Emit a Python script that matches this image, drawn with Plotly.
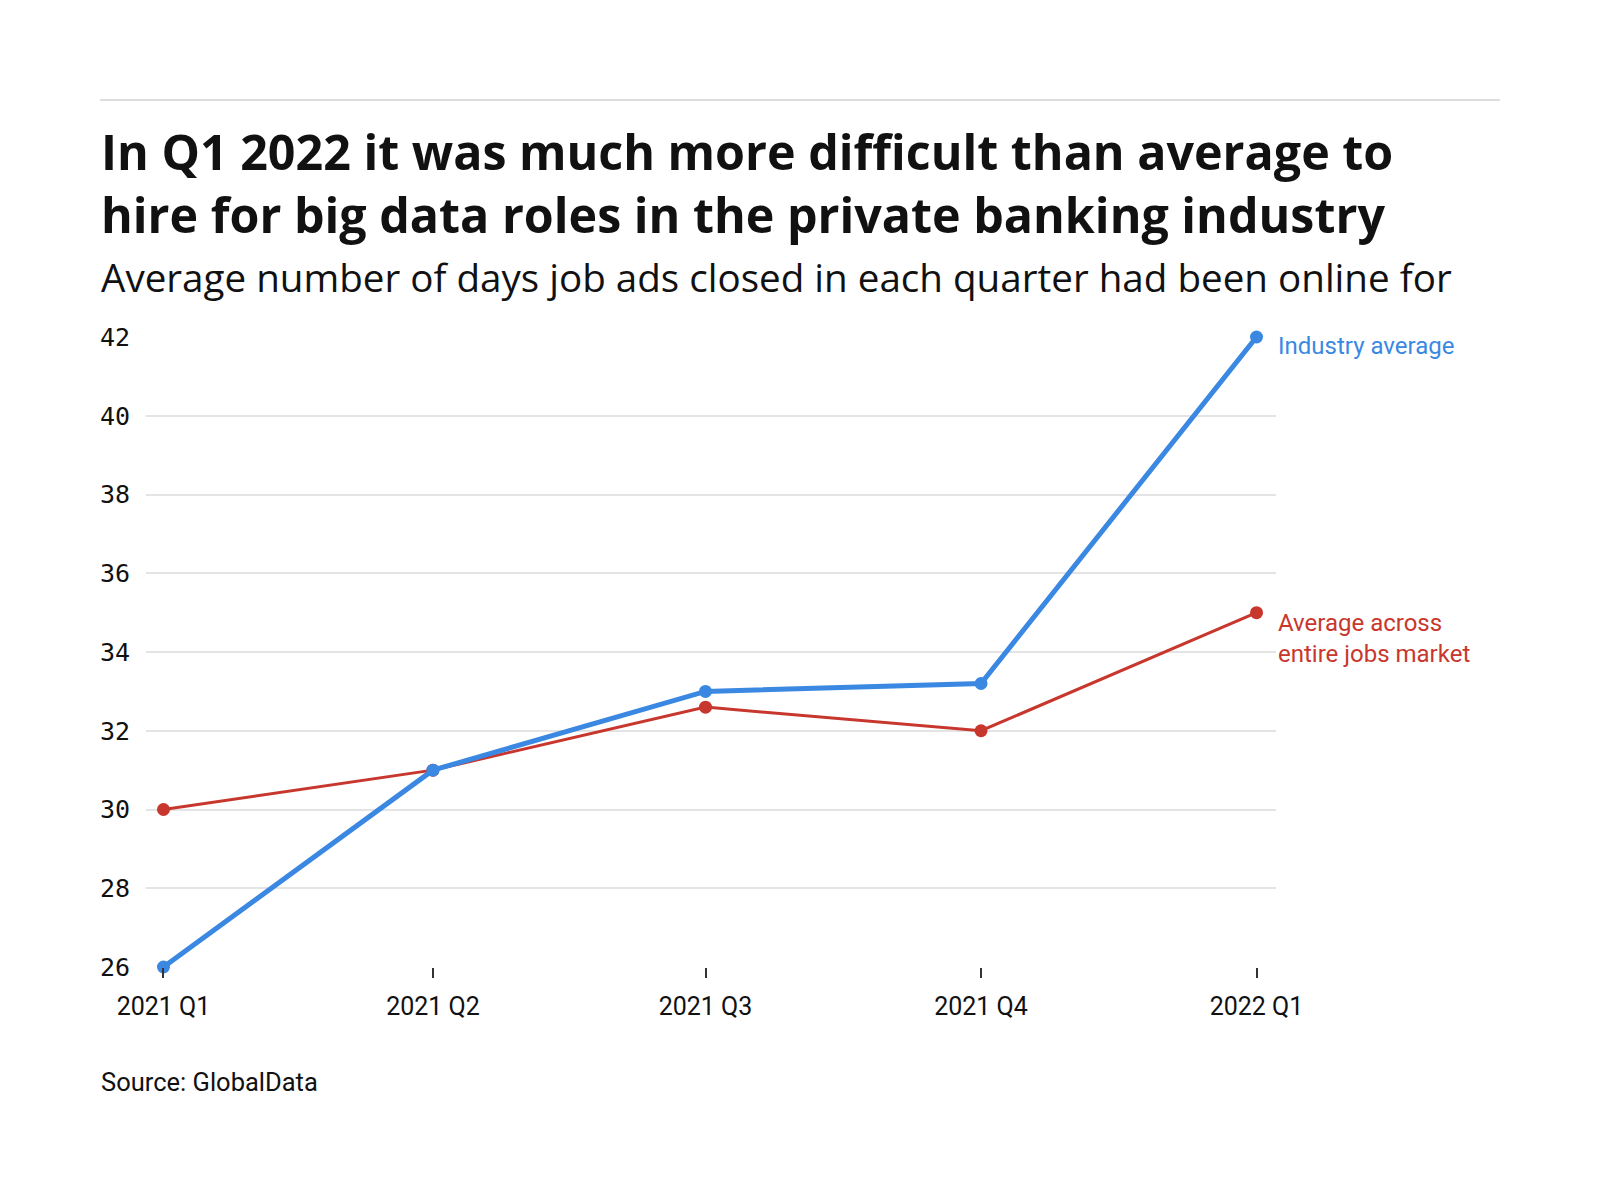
import plotly.graph_objects as go

quarters = ["2021-01-01", "2021-04-01", "2021-07-01", "2021-10-01", "2022-01-01"]
tick_labels = ["2021 Q1", "2021 Q2", "2021 Q3", "2021 Q4", "2022 Q1"]
industry = [26, 31, 33, 33.2, 42]
market = [30, 31, 32.6, 32, 35]
y_ticks = [26, 28, 30, 32, 34, 36, 38, 40, 42]

BLUE = "#3A88E2"
RED = "#C8372D"
INK = "#111111"

L, R, T, B = 138, 332, 329, 241
W, H = 1600, 1200
PW, PH = W - L - R, H - T - B


def px(x):
    return (x - L) / PW


def py(y):
    return (H - B - y) / PH


fig = go.Figure()
fig.add_trace(go.Scatter(x=quarters, y=market, mode="lines+markers",
                         line=dict(color=RED, width=3), marker=dict(size=13, color=RED),
                         cliponaxis=False, showlegend=False))
fig.add_trace(go.Scatter(x=quarters, y=industry, mode="lines+markers",
                         line=dict(color=BLUE, width=5), marker=dict(size=13, color=BLUE),
                         cliponaxis=False, showlegend=False))

fig.add_annotation(x=quarters[-1], y=industry[-1], text="Industry average",
                   xref="x", yref="y", xanchor="left", yanchor="middle", showarrow=False,
                   xshift=19, yshift=-9, font=dict(family="Roboto", size=24, color=BLUE), align="left")
fig.add_annotation(x=quarters[-1], y=market[-1], text="Average across<br>entire jobs market",
                   xref="x", yref="y", xanchor="left", yanchor="middle", showarrow=False,
                   xshift=19, yshift=-26, font=dict(family="Roboto", size=24, color=RED), align="left")

fig.add_annotation(text="In Q1 2022 it was much more difficult than average to<br>"
                        "hire for big data roles in the private banking industry",
                   xref="paper", yref="paper", x=px(91), y=py(240.5), xanchor="left", yanchor="bottom",
                   showarrow=False, align="left",
                   font=dict(family="Open Sans", size=48.4, weight=700, color=INK))
fig.add_annotation(text="Average number of days job ads closed in each quarter had been online for",
                   xref="paper", yref="paper", x=px(91), y=py(297), xanchor="left", yanchor="bottom",
                   showarrow=False, align="left", font=dict(family="Open Sans", size=38.6, color=INK))
fig.add_annotation(text="Source: GlobalData",
                   xref="paper", yref="paper", x=px(91), y=py(1074), xanchor="left", yanchor="middle",
                   showarrow=False, align="left", font=dict(family="Roboto", size=25.5, color=INK))

fig.update_layout(
    width=W, height=H,
    margin=dict(l=L, r=R, t=T, b=B),
    paper_bgcolor="white", plot_bgcolor="white",
    font=dict(family="Roboto", color=INK),
    shapes=[dict(type="line", xref="paper", yref="paper", x0=px(92), x1=px(1492),
                 y0=py(92), y1=py(92), line=dict(color="#dddddd", width=2))],
)

fig.update_xaxes(type="date", range=["2020-12-26 04:00", "2022-01-07 12:00"],
                 tickvals=quarters, ticktext=tick_labels,
                 showgrid=False, zeroline=False, showline=False,
                 ticks="outside", ticklen=10, tickwidth=2, tickcolor="#333333",
                 ticklabelstandoff=7,
                 tickfont=dict(family="Roboto", size=25, color=INK))
fig.update_yaxes(range=[26, 42], tickvals=y_ticks,
                 showgrid=True, gridcolor="#e4e4e4", gridwidth=2, zeroline=False, showline=False,
                 ticks="", ticklabelstandoff=15,
                 tickfont=dict(family="DejaVu Sans Mono", size=25, color=INK))

fig.write_html("out.html")
